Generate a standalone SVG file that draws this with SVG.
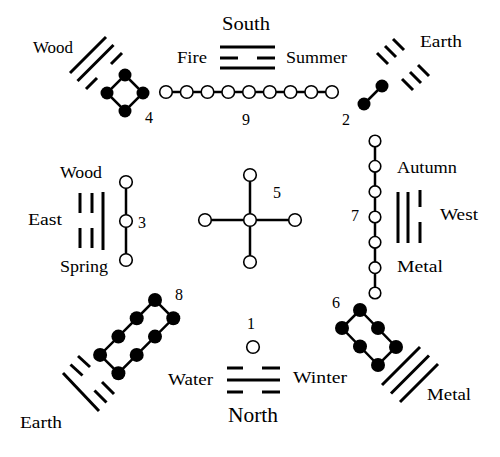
<svg xmlns="http://www.w3.org/2000/svg" width="500" height="457" viewBox="0 0 500 457">
<style>
text{font-family:"Liberation Serif","Times New Roman",serif;fill:#000}
.t{font-size:16px}
.n{font-size:16px}
.bar{stroke:#000;stroke-width:3;fill:none}
.ln{stroke:#000;stroke-width:2.5;fill:none}
.o{fill:#fff;stroke:#000;stroke-width:1.6}
.f{fill:#000;stroke:none}
</style>
<rect width="500" height="457" fill="#fff"/>
<g id="connectors">
<line class="ln" x1="166" y1="92" x2="332" y2="92"/>
<polygon class="ln" points="125,75 143,93 125,111 107,93"/>
<line class="ln" x1="382" y1="86" x2="364" y2="104"/>
<line class="ln" x1="126" y1="182" x2="126" y2="260"/>
<line class="ln" x1="250" y1="175" x2="250" y2="262"/>
<line class="ln" x1="205" y1="220" x2="295" y2="220"/>
<line class="ln" x1="375" y1="141" x2="375" y2="293"/>
<polygon class="ln" points="155,300 100.1,354.9 118.4,373.2 173.3,318.3"/>
<polygon class="ln" points="360,310 342,328 378,365 396,347"/>
</g>
<g id="node-9">
<circle class="o" cx="166" cy="92" r="6.3"/><circle class="o" cx="186.75" cy="92" r="6.3"/><circle class="o" cx="207.5" cy="92" r="6.3"/><circle class="o" cx="228.25" cy="92" r="6.3"/><circle class="o" cx="249" cy="92" r="6.3"/><circle class="o" cx="269.75" cy="92" r="6.3"/><circle class="o" cx="290.5" cy="92" r="6.3"/><circle class="o" cx="311.25" cy="92" r="6.3"/><circle class="o" cx="332" cy="92" r="6.3"/>
<text class="n" x="242" y="125">9</text>
</g>
<g id="node-4">
<circle class="f" cx="125" cy="75" r="6.5"/><circle class="f" cx="143" cy="93" r="6.5"/><circle class="f" cx="125" cy="111" r="6.5"/><circle class="f" cx="107" cy="93" r="6.5"/>
<text class="n" x="145" y="123">4</text>
</g>
<g id="node-2">
<circle class="f" cx="382" cy="86" r="6.5"/><circle class="f" cx="364" cy="104" r="6.5"/>
<text class="n" x="342" y="125">2</text>
</g>
<g id="node-3">
<circle class="o" cx="126" cy="182" r="6.3"/><circle class="o" cx="126" cy="221" r="6.3"/><circle class="o" cx="126" cy="260" r="6.3"/>
<text class="n" x="138" y="228">3</text>
</g>
<g id="node-5">
<circle class="o" cx="250" cy="175" r="6.3"/><circle class="o" cx="205" cy="220" r="6.3"/><circle class="o" cx="250" cy="220" r="6.3"/><circle class="o" cx="295" cy="220" r="6.3"/><circle class="o" cx="250" cy="262" r="6.3"/>
<text class="n" x="273" y="198">5</text>
</g>
<g id="node-7">
<circle class="o" cx="375" cy="141" r="5.8"/><circle class="o" cx="375" cy="166.3" r="5.8"/><circle class="o" cx="375" cy="191.7" r="5.8"/><circle class="o" cx="375" cy="217" r="5.8"/><circle class="o" cx="375" cy="242.3" r="5.8"/><circle class="o" cx="375" cy="267.7" r="5.8"/><circle class="o" cx="375" cy="293" r="5.8"/>
<text class="n" x="351" y="221">7</text>
</g>
<g id="node-8">
<circle class="f" cx="155" cy="300" r="7"/><circle class="f" cx="136.7" cy="318.3" r="7"/><circle class="f" cx="118.4" cy="336.6" r="7"/><circle class="f" cx="100.1" cy="354.9" r="7"/><circle class="f" cx="173.3" cy="318.3" r="7"/><circle class="f" cx="155" cy="336.6" r="7"/><circle class="f" cx="136.7" cy="354.9" r="7"/><circle class="f" cx="118.4" cy="373.2" r="7"/>
<text class="n" x="175" y="300">8</text>
</g>
<g id="node-6">
<circle class="f" cx="360" cy="310" r="7"/><circle class="f" cx="342" cy="328" r="7"/><circle class="f" cx="378" cy="328" r="7"/><circle class="f" cx="360" cy="346.5" r="7"/><circle class="f" cx="396" cy="347" r="7"/><circle class="f" cx="378" cy="365" r="7"/>
<text class="n" x="332" y="308">6</text>
</g>
<g id="node-1">
<circle class="o" cx="253" cy="347" r="6.3"/>
<text class="n" x="247" y="329">1</text>
</g>
<g id="trigram-south">
<line class="bar" x1="220" y1="47" x2="275" y2="47"/>
<line class="bar" x1="220" y1="58" x2="238" y2="58"/><line class="bar" x1="257" y1="58" x2="275" y2="58"/>
<line class="bar" x1="220" y1="68" x2="275" y2="68"/>
<text x="222" y="30" style="font-size:19px" textLength="48" lengthAdjust="spacingAndGlyphs">South</text>
<text class="t" x="177" y="63" style="font-size:17px" textLength="30" lengthAdjust="spacingAndGlyphs">Fire</text>
<text class="t" x="286" y="63" style="font-size:17px" textLength="61" lengthAdjust="spacingAndGlyphs">Summer</text>
</g>
<g id="trigram-southeast">
<line class="bar" x1="70" y1="73" x2="106" y2="37"/>
<line class="bar" x1="77.5" y1="81" x2="113.5" y2="45"/>
<line class="bar" x1="86" y1="89" x2="97" y2="78"/><line class="bar" x1="111" y1="64" x2="122" y2="53"/>
<text x="33" y="53" style="font-size:16px" textLength="40" lengthAdjust="spacingAndGlyphs">Wood</text>
</g>
<g id="trigram-southwest">
<line class="bar" x1="377" y1="53" x2="388" y2="64"/><line class="bar" x1="402" y1="79" x2="413" y2="90"/>
<line class="bar" x1="385" y1="46" x2="396" y2="57"/><line class="bar" x1="410" y1="72" x2="421" y2="83"/>
<line class="bar" x1="393" y1="39" x2="404" y2="50"/><line class="bar" x1="418" y1="65" x2="429" y2="76"/>
<text x="420" y="47" style="font-size:17px" textLength="42" lengthAdjust="spacingAndGlyphs">Earth</text>
</g>
<g id="trigram-east">
<line class="bar" x1="80" y1="193" x2="80" y2="213"/><line class="bar" x1="80" y1="228" x2="80" y2="248"/>
<line class="bar" x1="92" y1="193" x2="92" y2="213"/><line class="bar" x1="92" y1="228" x2="92" y2="248"/>
<line class="bar" x1="103" y1="192" x2="103" y2="250"/>
<text class="t" x="60" y="178" textLength="42" lengthAdjust="spacingAndGlyphs">Wood</text>
<text class="t" x="28" y="225" textLength="34" lengthAdjust="spacingAndGlyphs">East</text>
<text class="t" x="60" y="272" textLength="48" lengthAdjust="spacingAndGlyphs">Spring</text>
</g>
<g id="trigram-west">
<line class="bar" x1="398" y1="192" x2="398" y2="243"/>
<line class="bar" x1="408" y1="192" x2="408" y2="243"/>
<line class="bar" x1="420" y1="190" x2="420" y2="207"/><line class="bar" x1="420" y1="222" x2="420" y2="243"/>
<text class="t" x="397" y="173" textLength="60" lengthAdjust="spacingAndGlyphs">Autumn</text>
<text x="440" y="220" style="font-size:17px" textLength="38" lengthAdjust="spacingAndGlyphs">West</text>
<text class="t" x="397" y="272" textLength="46" lengthAdjust="spacingAndGlyphs">Metal</text>
</g>
<g id="trigram-northeast">
<line class="bar" x1="78" y1="356" x2="90" y2="367"/><line class="bar" x1="102" y1="382" x2="114" y2="394"/>
<line class="bar" x1="70.5" y1="364.5" x2="82.5" y2="375.5"/><line class="bar" x1="94.5" y1="390.5" x2="106.5" y2="402.5"/>
<line class="bar" x1="63" y1="373" x2="99" y2="411"/>
<text x="20" y="428" style="font-size:17px" textLength="42" lengthAdjust="spacingAndGlyphs">Earth</text>
</g>
<g id="trigram-northwest">
<line class="bar" x1="382" y1="385" x2="420" y2="347"/>
<line class="bar" x1="391" y1="393.5" x2="429" y2="355.5"/>
<line class="bar" x1="400" y1="402" x2="438" y2="364"/>
<text x="427" y="400" style="font-size:17px" textLength="44" lengthAdjust="spacingAndGlyphs">Metal</text>
</g>
<g id="trigram-north">
<line class="bar" x1="227" y1="368" x2="243" y2="368"/><line class="bar" x1="262" y1="368" x2="280" y2="368"/>
<line class="bar" x1="227" y1="380" x2="280" y2="380"/>
<line class="bar" x1="227" y1="392" x2="243" y2="392"/><line class="bar" x1="262" y1="392" x2="280" y2="392"/>
<text class="t" x="168" y="385" textLength="45" lengthAdjust="spacingAndGlyphs">Water</text>
<text class="t" x="293" y="383" textLength="54" lengthAdjust="spacingAndGlyphs">Winter</text>
<text x="228" y="422" style="font-size:21px" textLength="50" lengthAdjust="spacingAndGlyphs">North</text>
</g>
</svg>
